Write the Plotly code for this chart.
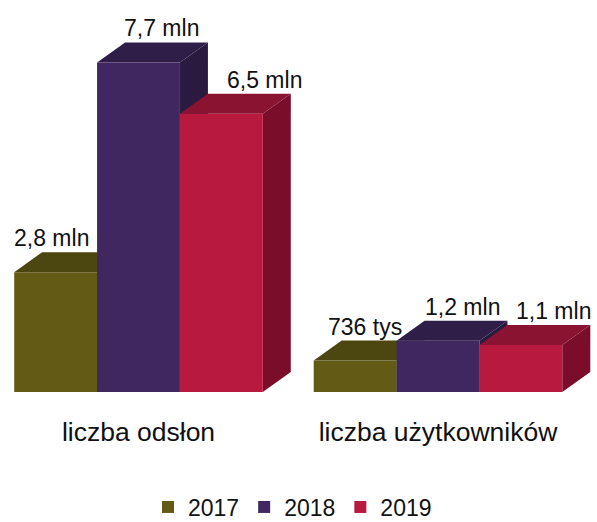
import plotly.graph_objects as go

# ---- data ----
categories = ["liczba odsłon", "liczba użytkowników"]
years = ["2017", "2018", "2019"]
values_2017 = [2.8, 0.736]
values_2018 = [7.7, 1.2]
values_2019 = [6.5, 1.1]
labels_2017 = ["2,8 mln", "736 tys"]
labels_2018 = ["7,7 mln", "1,2 mln"]
labels_2019 = ["6,5 mln", "1,1 mln"]

# ---- styles ----
front_colors = ["#625A15", "#40275F", "#B8193F"]
top_colors = ["#4C4611", "#2F1E47", "#8B1332"]
side_colors = ["#3E390C", "#2B1A40", "#790D2A"]
# label horizontal nudges (px) per category group, per series
label_xshift = [[-4, 23, 43], [10, 24, 33]]

series = [
    (years[0], values_2017, labels_2017),
    (years[1], values_2018, labels_2018),
    (years[2], values_2019, labels_2019),
]

W, H = 597, 522
MB = 130
plot_h = H - MB
px_per_y = 42.8
px_per_x = 299.5
first_center_px = 138.5
y_max = plot_h / px_per_y
x_min = -first_center_px / px_per_x
x_max = (W - first_center_px) / px_per_x

bargap = 0.17
group_w = 1 - bargap
n = len(series)
bar_w = group_w / n
ddx = 28 / px_per_x
ddy = 20 / px_per_y

xpos = list(range(len(categories)))

fig = go.Figure()
shapes = []
annotations = []
for g, xc in enumerate(xpos):
    for i, (name, vals, labs) in enumerate(series):
        v = vals[g]
        left = xc - group_w / 2 + i * bar_w
        right = left + bar_w
        side = (f"M {right},0 L {right+ddx},{ddy} L {right+ddx},{v+ddy} "
                f"L {right},{v} Z")
        top = (f"M {left},{v} L {right},{v} L {right+ddx},{v+ddy} "
               f"L {left+ddx},{v+ddy} Z")
        shapes.append(dict(type="path", path=side, xref="x", yref="y",
                           fillcolor=side_colors[i], line=dict(width=0),
                           layer="below"))
        shapes.append(dict(type="path", path=top, xref="x", yref="y",
                           fillcolor=top_colors[i], line=dict(width=0),
                           layer="below"))
        annotations.append(dict(x=left + bar_w / 2, y=v + ddy, xref="x", yref="y",
                                text=labs[g], showarrow=False,
                                xanchor="center", yanchor="middle",
                                xshift=label_xshift[g][i], yshift=14,
                                font=dict(size=23, color="#111111",
                                          family="Liberation Sans")))

for i, (name, vals, labs) in enumerate(series):
    fig.add_trace(go.Bar(x=xpos, y=vals, name=name,
                         marker=dict(color=front_colors[i], line=dict(width=0)),
                         hoverinfo="skip"))

fig.update_layout(
    width=W, height=H,
    margin=dict(l=0, r=0, t=0, b=MB),
    barmode="group", bargap=bargap, bargroupgap=0,
    plot_bgcolor="white", paper_bgcolor="white",
    font=dict(family="Liberation Sans", color="#111111"),
    shapes=shapes, annotations=annotations,
    showlegend=True,
    legend=dict(orientation="h", x=0.5 - 6 / W, xanchor="center",
                yref="container", y=(H - 507) / H, yanchor="middle",
                font=dict(size=23, color="#111111"), traceorder="normal"),
    xaxis=dict(range=[x_min, x_max], tickvals=xpos, ticktext=categories,
               showgrid=False, zeroline=False, showline=False, ticks="",
               ticklabelstandoff=21, automargin=False,
               tickfont=dict(size=26.5, color="#111111")),
    yaxis=dict(range=[0, y_max], visible=False, showgrid=False, zeroline=False,
               automargin=False),
)

fig.write_html("out.html",
               config={"displayModeBar": False},
               post_script="document.body.style.margin='0px';document.body.style.padding='0px';")
